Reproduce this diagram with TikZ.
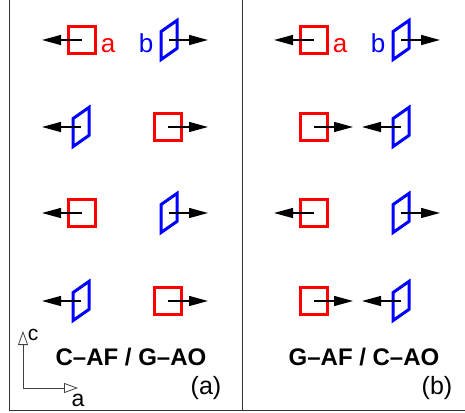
\documentclass[tikz,border=0pt]{standalone}
\usepackage{fontspec}
\setmainfont{Liberation Sans}
\usetikzlibrary{arrows.meta}
\tikzset{
sq/.style = {rectangle, draw=red, line width=3pt, inner sep=0pt, minimum size=#1},
sq/.default = 27pt, % side of the red square
para/.style = {rectangle, draw=blue, line width=3pt, inner sep=0pt, minimum width=16pt, minimum height=28pt, yslant=0.7},
spin/.style = {line width=1.3pt, -{Triangle[length=19pt,width=10pt]}},
axis/.style = {line width=0.8pt, draw=black!75, -{Triangle[open,length=14pt,width=10pt]}},
lbl/.style = {inner sep=0pt, font=\fontsize{#1}{#1}\selectfont},
lbl/.default = 26,
}

\begin{document}
\begin{tikzpicture}[x=1pt,y=1pt]
    \useasboundingbox (0,0) rectangle (465,412);
    % frame
    \draw[line width=1pt, black!80] (9,412) -- (9,1.5) -- (465,1.5);
    \draw[line width=1pt, black!80] (242,412) -- (242,1.5);

    % panel (a)
    \node[sq] (sqA1) at (82,372) {};
    \node[para] (paA1) at (169,372) {};
    \node[para] (paA2) at (81,285) {};
    \node[sq] (sqA2) at (168,285) {};
    \node[sq] (sqA3) at (82,199) {};
    \node[para] (paA3) at (169,199) {};
    \node[para] (paA4) at (81,111) {};
    \node[sq] (sqA4) at (168,111) {};
    \coordinate (tipA1l) at (42,372);
    \coordinate (tipA1r) at (208,372);
    \coordinate (tipA2l) at (42,285);
    \coordinate (tipA2r) at (208,285);
    \coordinate (tipA3l) at (42,199);
    \coordinate (tipA3r) at (208,199);
    \coordinate (tipA4l) at (42,111);
    \coordinate (tipA4r) at (208,111);
    \draw[spin] (sqA1.center) -- (tipA1l);
    \draw[spin] (paA1.center) -- (tipA1r);
    \draw[spin] (paA2.center) -- (tipA2l);
    \draw[spin] (sqA2.center) -- (tipA2r);
    \draw[spin] (sqA3.center) -- (tipA3l);
    \draw[spin] (paA3.center) -- (tipA3r);
    \draw[spin] (paA4.center) -- (tipA4l);
    \draw[spin] (sqA4.center) -- (tipA4r);
    \node[lbl, text=red] (labA) at (108,366.5) {a};
    \node[lbl, text=blue] (labB) at (146,369) {b};

    % panel (b)
    \node[sq] (sqB1) at (314,372) {};
    \node[para] (paB1) at (401,372) {};
    \node[sq] (sqB2) at (314,285) {};
    \node[para] (paB2) at (401,285) {};
    \node[sq] (sqB3) at (314,199) {};
    \node[para] (paB3) at (401,199) {};
    \node[sq] (sqB4) at (314,111) {};
    \node[para] (paB4) at (401,111) {};
    \coordinate (tipB1l) at (274,372);
    \coordinate (tipB1r) at (440,372);
    \coordinate (tipB2r) at (353,285);
    \coordinate (tipB2l) at (362,285);
    \coordinate (tipB3l) at (274,199);
    \coordinate (tipB3r) at (440,199);
    \coordinate (tipB4r) at (353,111);
    \coordinate (tipB4l) at (362,111);
    \draw[spin] (sqB1.center) -- (tipB1l);
    \draw[spin] (paB1.center) -- (tipB1r);
    \draw[spin] (sqB2.center) -- (tipB2r);
    \draw[spin] (paB2.center) -- (tipB2l);
    \draw[spin] (sqB3.center) -- (tipB3l);
    \draw[spin] (paB3.center) -- (tipB3r);
    \draw[spin] (sqB4.center) -- (tipB4r);
    \draw[spin] (paB4.center) -- (tipB4l);
    \node[lbl, text=red] (labA2) at (340,366.5) {a};
    \node[lbl, text=blue] (labB2) at (378,369) {b};

    % captions
    \node[lbl=24, font=\bfseries\fontsize{24}{24}\selectfont] (capA) at (131,55) {C–AF / G–AO};
    \node[lbl=24, font=\bfseries\fontsize{24}{24}\selectfont] (capB) at (364,55) {G–AF / C–AO};
    \node[lbl=25] (tagA) at (206,24) {(a)};
    \node[lbl=25] (tagB) at (437,24) {(b)};

    % axes
    \coordinate (orig) at (23,24);
    \coordinate (cEnd) at (23,81);
    \coordinate (aEnd) at (78,24);
    \draw[axis] (orig) -- (cEnd);
    \draw[axis] (orig) -- (aEnd);
    \node[lbl=21] (axC) at (33,77) {c};
    \node[lbl=23] (axA) at (78,12) {a};
\end{tikzpicture}
\end{document}
